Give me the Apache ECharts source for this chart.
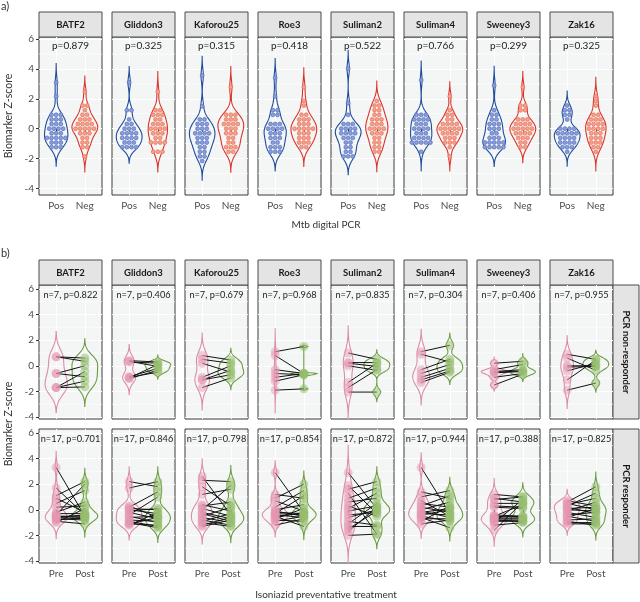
<!DOCTYPE html>
<html><head><meta charset="utf-8">
<script src="https://cdn.jsdelivr.net/npm/echarts@6/dist/echarts.min.js"></script>
<style>html,body{margin:0;padding:0;background:#fff}#c{width:640px;height:602px}</style>
</head><body><div id="c"></div><script>
// ---------- categories & labels ----------
const biomarkers = ['BATF2','Gliddon3','Kaforou25','Roe3','Suliman2','Suliman4','Sweeney3','Zak16'];
const groupLabelsA = ['Pos','Neg'];
const groupLabelsB = ['Pre','Post'];
const rowLabelsB = ['PCR non-responder','PCR responder'];
const pValuesA  = ['0.879','0.325','0.315','0.418','0.522','0.766','0.299','0.325'];
const pValuesNR = ['0.822','0.406','0.679','0.968','0.835','0.304','0.406','0.955'];
const pValuesR  = ['0.701','0.846','0.798','0.854','0.872','0.944','0.388','0.825'];
const yTicks = [-4,-2,0,2,4,6];
const yMinorTicks = [-3,-1,1,3,5];

// ---------- panel a: Mtb digital PCR Pos / Neg ----------
const posBATF2 = [3.1,2.17,0.93,0.93,0.93,0.62,0.62,0.62,0.31,0.31,0.31,0,0,0,0,-0.31,-0.31,-0.31,-0.62,-0.62,-0.62,-0.62,-0.62,-0.93,-0.93,-0.93,-1.24,-1.24,-1.24];
const negBATF2 = [2.48,1.55,1.55,1.24,0.93,0.93,0.62,0.62,0.62,0.31,0.31,0.31,0.31,0,0,0,0,0,-0.31,-0.31,-0.31,-0.62,-0.62,-0.93,-0.93,-1.24,-1.24,-1.86];
const posGliddon3 = [3.1,1.24,1.24,0.62,0.31,0.31,0,0,0,-0.31,-0.31,-0.31,-0.31,-0.62,-0.62,-0.62,-0.62,-0.93,-0.93,-0.93,-1.24,-1.24,-1.24,-1.24];
const negGliddon3 = [2.48,1.24,1.24,0.93,0.93,0.93,0.62,0.62,0.31,0.31,0.31,0,0,0,0,-0.31,-0.31,-0.31,-0.62,-0.62,-0.93,-0.93,-0.93,-0.93,-1.55,-1.55,-1.55];
const posKaforou25 = [3.57,1.5,0.62,0.62,0.31,0.31,0.31,0,0,0,-0.31,-0.31,-0.31,-0.31,-0.62,-0.62,-0.62,-0.93,-0.93,-0.93,-1.24,-1.24,-1.55,-1.55,-1.86,-1.86,-2.17];
const negKaforou25 = [2.79,0.93,0.93,0.93,0.62,0.62,0.62,0.31,0.31,0.31,0.31,0,0,0,-0.31,-0.31,-0.31,-0.62,-0.62,-0.93,-0.93,-1.24,-1.24,-1.24,-1.55,-1.55];
const posRoe3 = [3.41,2.17,1.24,1.24,0.93,0.93,0.31,0.31,0.31,0,0,0,0,-0.31,-0.31,-0.31,-0.62,-0.62,-0.62,-0.93,-0.93,-1.24,-1.24,-1.24,-1.55,-1.55,-1.55];
const negRoe3 = [2.79,1.86,1.55,0.93,0.93,0.62,0.62,0.62,0.31,0.31,0.31,0,0,0,0,0,-0.31,-0.31,-0.31,-0.62,-0.62,-0.62,-0.93,-0.93,-0.93,-1.24,-1.24];
const posSuliman2 = [4.03,1.71,0.93,0.31,0.31,0.31,0,0,0,0,-0.31,-0.31,-0.31,-0.31,-0.62,-0.62,-0.62,-0.93,-0.93,-1.24,-1.24,-1.55,-1.55,-1.86,-1.86,-1.86];
const negSuliman2 = [1.86,1.55,1.55,1.24,1.24,0.93,0.93,0.62,0.62,0.62,0.31,0.31,0.31,0,0,0,0,-0.31,-0.31,-0.31,-0.62,-0.62,-0.93,-0.93,-1.24,-1.24,-1.55,-1.55];
const posSuliman4 = [3.26,0.93,0.93,0.93,0.62,0.62,0.62,0.62,0.31,0.31,0.31,0,0,0,0,-0.31,-0.31,-0.31,-0.62,-0.62,-0.62,-0.62,-0.93,-0.93,-0.93,-0.93,-0.93,-1.55];
const negSuliman4 = [2.17,1.24,0.93,0.93,0.62,0.62,0.31,0.31,0.31,0.31,0,0,0,0,0,-0.31,-0.31,-0.31,-0.31,-0.62,-0.62,-0.62,-0.93,-0.93,-0.93,-1.24,-1.86];
const posSweeney3 = [2.9,1.24,0.93,0.93,0.62,0.62,0.31,0.31,0.31,0,0,0,-0.31,-0.31,-0.62,-0.62,-0.62,-0.93,-0.93,-0.93,-0.93,-0.93,-1.24,-1.24,-1.24,-1.24,-1.24];
const negSweeney3 = [2.79,1.55,1.55,1.24,1.24,0.62,0.62,0.62,0.31,0.31,0.31,0.31,0,0,0,0,0,-0.31,-0.31,-0.31,-0.31,-0.62,-0.62,-0.62,-0.93,-0.93,-1.24,-1.24];
const posZak16 = [1.55,1.24,1.24,0.93,0.93,0.62,0,0,0,0,-0.31,-0.31,-0.31,-0.31,-0.31,-0.62,-0.62,-0.62,-0.62,-0.93,-0.93,-0.93,-0.93,-1.24,-1.24,-1.24,-1.55];
const negZak16 = [2.17,1.86,1.55,0.93,0.93,0.62,0.62,0.62,0.31,0.31,0.31,0.31,0,0,0,0,-0.31,-0.31,-0.31,-0.62,-0.62,-0.62,-0.93,-0.93,-0.93,-1.24,-1.24,-1.55];

// ---------- panel b: paired Pre / Post, PCR non-responders (n=7) ----------
const preNR_BATF2 = [0.7,0.7,-0.6,-0.6,-1.7,-1.7,-1.7];
const postNR_BATF2 = [0.6,0.35,0.0,-0.85,-0.45,-1.65,-1.2];
const preNR_Gliddon3 = [0.4,0.35,0.3,-0.85,-0.9,-0.95,-1.0];
const postNR_Gliddon3 = [0.3,-0.05,0.2,-0.2,-0.5,0.1,-0.35];
const preNR_Kaforou25 = [0.8,0.5,0.2,-0.9,-1.1,-1.1,-1.7];
const postNR_Kaforou25 = [0.45,0.2,-0.5,0.0,-0.35,-0.7,-0.95];
const preNR_Roe3 = [1.1,0.8,-0.3,-0.6,-0.9,-1.2,-1.9];
const postNR_Roe3 = [1.5,-0.6,-0.6,-0.7,-0.6,-0.7,-1.8];
const preNR_Suliman2 = [1.0,0.25,0.2,0.0,-1.3,-1.7,-2.05];
const postNR_Suliman2 = [0.5,0.25,-0.05,-0.35,0.2,-0.3,-2.05];
const preNR_Suliman4 = [1.1,0.9,-0.3,-0.6,-0.9,-1.1,-1.3];
const postNR_Suliman4 = [1.6,0.3,0.5,0.1,-0.2,-0.4,-0.5];
const preNR_Sweeney3 = [0.2,-0.3,-0.45,-0.5,-0.55,-0.9,-1.5];
const postNR_Sweeney3 = [0.35,0.1,-0.3,-0.4,-0.45,-0.6,-0.65];
const preNR_Zak16 = [0.9,0.6,0.0,-0.1,-0.4,-1.1,-1.9];
const postNR_Zak16 = [0.5,-0.35,0.0,-0.05,0.2,0.45,-1.35];

// ---------- panel b: PCR responders (n=17) ----------
const preR_BATF2 = [3.3,1.7,1.1,0.9,0.5,0.2,-0.2,-0.3,-0.4,-0.5,-0.5,-0.6,-0.6,-0.7,-0.8,-0.9,-1.0];
const postR_BATF2 = [-0.5,-0.4,2.2,-0.2,1.5,0.3,0.6,-0.3,2.0,-0.5,-0.6,-0.7,-0.4,-0.8,-0.6,-1.1,0.1];
const preR_Gliddon3 = [2.2,1.7,0.3,0.2,0.1,0.0,-0.1,-0.2,-0.4,-0.5,-0.6,-0.8,-0.9,-1.0,-1.1,-1.1,-1.2];
const postR_Gliddon3 = [1.8,2.2,-0.6,1.4,0.0,-0.3,0.1,-0.7,1.0,-1.0,-0.5,-0.9,-1.3,-1.4,-0.6,-1.2,-0.2];
const preR_Kaforou25 = [2.6,2.3,1.8,1.2,0.4,0.3,0.1,0.0,-0.2,-0.3,-0.5,-0.6,-0.8,-0.9,-1.0,-1.2,-1.3];
const postR_Kaforou25 = [-0.4,2.2,0.3,1.6,-0.1,0.6,-0.5,1.9,-0.7,-0.9,0.2,-1.0,-1.2,-0.3,-1.3,-0.6,-0.8];
const preR_Roe3 = [2.9,1.2,0.9,0.7,0.2,0.0,-0.1,-0.2,-0.3,-0.3,-0.4,-0.5,-0.6,-0.8,-0.9,-1.2,-0.7];
const postR_Roe3 = [-0.2,0.9,2.0,-0.1,1.5,0.4,-0.5,-0.3,1.1,-0.4,-0.6,-1.3,-0.2,-0.9,-0.5,-0.7,0.1];
const preR_Suliman2 = [2.9,1.9,1.6,1.3,0.9,0.6,0.3,0.1,-0.1,-0.4,-0.6,-0.9,-1.1,-1.3,-1.5,-1.7,-2.0];
const postR_Suliman2 = [0.1,-0.3,2.2,-1.9,1.7,0.9,-0.5,1.3,0.3,-0.2,0.0,-1.2,0.5,-1.3,-0.1,0.2,-1.9];
const preR_Suliman4 = [3.3,1.4,1.0,0.7,0.5,0.3,0.2,0.0,-0.1,-0.2,-0.3,-0.5,-0.6,-0.7,-0.9,-1.1,-0.4];
const postR_Suliman4 = [-0.3,0.9,1.5,-0.5,0.2,1.1,-0.2,0.6,-0.6,0.1,-0.4,-0.9,-1.4,-0.7,0.3,-0.8,0.0];
const preR_Sweeney3 = [1.2,0.9,0.8,0.5,0.3,0.2,-0.4,-0.5,-0.5,-0.6,-0.7,-0.8,-0.8,-0.9,-1.0,-1.2,-1.6];
const postR_Sweeney3 = [1.0,0.6,1.0,0.5,0.2,0.1,-0.5,-0.6,0.4,-0.5,-0.7,-0.8,-0.9,-0.9,0.8,-1.0,0.6];
const preR_Zak16 = [0.7,0.6,0.5,0.4,0.3,0.2,0.1,0.0,-0.1,-0.2,-0.4,-0.5,-0.6,-0.8,-0.9,-1.0,-1.1];
const postR_Zak16 = [0.3,1.8,0.0,0.9,1.3,-0.3,0.2,-0.1,0.6,-0.6,-0.2,-0.9,0.1,-0.7,-1.2,-1.0,-1.1];

// ---------- tables built from the arrays ----------
const posData = [posBATF2,posGliddon3,posKaforou25,posRoe3,posSuliman2,posSuliman4,posSweeney3,posZak16];
const negData = [negBATF2,negGliddon3,negKaforou25,negRoe3,negSuliman2,negSuliman4,negSweeney3,negZak16];
const preNR = [preNR_BATF2,preNR_Gliddon3,preNR_Kaforou25,preNR_Roe3,preNR_Suliman2,preNR_Suliman4,preNR_Sweeney3,preNR_Zak16];
const postNR = [postNR_BATF2,postNR_Gliddon3,postNR_Kaforou25,postNR_Roe3,postNR_Suliman2,postNR_Suliman4,postNR_Sweeney3,postNR_Zak16];
const preR = [preR_BATF2,preR_Gliddon3,preR_Kaforou25,preR_Roe3,preR_Suliman2,preR_Suliman4,preR_Sweeney3,preR_Zak16];
const postR = [postR_BATF2,postR_Gliddon3,postR_Kaforou25,postR_Roe3,postR_Suliman2,postR_Suliman4,postR_Sweeney3,postR_Zak16];

// ---------- styling / layout ----------
const FONT = 'Lato, "Noto Sans", sans-serif';
const PANEL_L = 39, PANEL_STEP = 73, PANEL_W = 63;
const BG = '#F4F6F6';
const BINW = 0.31;
const COL_A = {stroke:['#1F4B9B','#D8342A'], dotFill:['#8A9ED8','#F5A08A'], dotStroke:['#5670C0','#E8705A']};
const COL_B = {stroke:['#DB8CA6','#6A9B40'], pt:['rgba(230,150,176,0.6)','rgba(150,190,110,0.65)']};

function quantile(s, p){ const h=(s.length-1)*p, lo=Math.floor(h), hi=Math.ceil(h); return s[lo]+(h-lo)*(s[hi]-s[lo]); }
function bwNrd0(x){
  const n=x.length, m=x.reduce((a,b)=>a+b,0)/n;
  const sd=Math.sqrt(x.reduce((a,b)=>a+(b-m)*(b-m),0)/(n-1));
  const s=[...x].sort((a,b)=>a-b);
  const iqr=quantile(s,0.75)-quantile(s,0.25);
  let lo=Math.min(sd, iqr/1.34); if(!(lo>0)) lo=sd||1;
  return 0.9*lo*Math.pow(n,-0.2);
}
function kde(x){
  const bw=bwNrd0(x), mn=Math.min(...x)-3*bw, mx=Math.max(...x)+3*bw, N=160, out=[];
  for(let k=0;k<N;k++){
    const y=mn+(mx-mn)*k/(N-1); let d=0;
    for(const v of x){ const z=(y-v)/bw; d+=Math.exp(-0.5*z*z); }
    out.push([y, d/(x.length*bw*Math.sqrt(2*Math.PI))]);
  }
  return out;
}

const grids=[], xAxes=[], yAxes=[], series=[];

function addPanel(gi, col, top, h, ymin, ymax, labels, showX){
  grids.push({left:PANEL_L+PANEL_STEP*col, top:top, width:PANEL_W, height:h, show:true,
    backgroundColor:BG, borderColor:'#3a3a3a', borderWidth:1});
  xAxes.push({type:'value', gridIndex:gi, min:0.4, max:2.6,
    axisLine:{show:false},
    axisTick:{show:showX, customValues:[1,2], length:3, lineStyle:{color:'#333'}},
    axisLabel:{show:showX, customValues:[1,2], formatter:v=>labels[Math.round(v)-1],
      color:'#4D4D4D', fontSize:10, fontFamily:FONT, margin:6},
    splitLine:{show:true, lineStyle:{color:'#FFFFFF', width:1}}});
  yAxes.push({type:'value', gridIndex:gi, min:ymin, max:ymax,
    axisLine:{show:false},
    axisTick:{show:col===0, customValues:yTicks, length:3, lineStyle:{color:'#333'}},
    axisLabel:{show:col===0, customValues:yTicks, color:'#4D4D4D', fontSize:10, fontFamily:FONT, margin:5},
    splitLine:{show:true, lineStyle:{color:'#FFFFFF', width:1}}});
  series.push({type:'custom', xAxisIndex:gi, yAxisIndex:gi, silent:true, data:yMinorTicks.map(v=>[1,v]),
    renderItem:(p,api)=>{ const a=api.coord([0.4,api.value(1)]), b=api.coord([2.6,api.value(1)]);
      return {type:'line', shape:{x1:a[0],y1:a[1],x2:b[0],y2:b[1]}, style:{stroke:'#FFFFFF', lineWidth:0.6}}; }});
}

function addViolins(gi, groups, strokes){
  const dens=groups.map(kde);
  const maxD=Math.max(...dens.map(d=>Math.max(...d.map(q=>q[1]))));
  series.push({type:'custom', xAxisIndex:gi, yAxisIndex:gi, silent:true,
    data:groups.map((g,i)=>[i+1, g[0]]),
    renderItem:(p,api)=>{
      const k=p.dataIndex, d=dens[k], xc=k+1;
      const L=d.map(([y,v])=>api.coord([xc-0.45*v/maxD,y]));
      const R=d.map(([y,v])=>api.coord([xc+0.45*v/maxD,y])).reverse();
      return {type:'polygon', shape:{points:L.concat(R)}, style:{fill:'none', stroke:strokes[k], lineWidth:1.1}};
    }});
}

function addDots(gi, groups){
  const items=[];
  groups.forEach((g,k)=>{
    const counts=new Map();
    g.forEach(v=>counts.set(v,(counts.get(v)||0)+1));
    counts.forEach((c,v)=>{ for(let j=0;j<c;j++) items.push([k+1,v,j,c,k]); });
  });
  series.push({type:'custom', xAxisIndex:gi, yAxisIndex:gi, silent:true, data:items,
    renderItem:(p,api)=>{
      const x=api.value(0), y=api.value(1), j=api.value(2), c=api.value(3), k=api.value(4);
      const pt=api.coord([x,y]); const dpx=api.size([0,BINW])[1];
      return {type:'circle', shape:{cx:pt[0]+(j-(c-1)/2)*dpx, cy:pt[1], r:dpx/2-0.35},
        style:{fill:COL_A.dotFill[k], stroke:COL_A.dotStroke[k], lineWidth:0.7}};
    }});
}

function addLabel(gi, text, size){
  series.push({type:'custom', xAxisIndex:gi, yAxisIndex:gi, silent:true, data:[[1.5,5.55]],
    renderItem:(p,api)=>{ const c=api.coord([api.value(0),api.value(1)]);
      return {type:'text', x:c[0], y:c[1], style:{text:text, textAlign:'center', textVerticalAlign:'middle',
        fill:'#222', fontSize:size, fontFamily:FONT}}; }});
}

function addPairs(gi, pre, post){
  series.push({type:'scatter', xAxisIndex:gi, yAxisIndex:gi, silent:true, symbolSize:9,
    data:pre.map(v=>[1,v]), itemStyle:{color:COL_B.pt[0]}});
  series.push({type:'scatter', xAxisIndex:gi, yAxisIndex:gi, silent:true, symbolSize:9,
    data:post.map(v=>[2,v]), itemStyle:{color:COL_B.pt[1]}});
  series.push({type:'custom', xAxisIndex:gi, yAxisIndex:gi, silent:true,
    data:pre.map((v,i)=>[v,post[i]]),
    renderItem:(p,api)=>{ const a=api.coord([1,api.value(0)]), b=api.coord([2,api.value(1)]);
      return {type:'line', shape:{x1:a[0],y1:a[1],x2:b[0],y2:b[1]}, style:{stroke:'#111', lineWidth:1}}; }});
}

let gi=0;
for(let i=0;i<8;i++){
  const groups=[posData[i],negData[i]];
  addPanel(gi,i,37,158,-4.45,6.15,groupLabelsA,true);
  addViolins(gi,groups,COL_A.stroke);
  addDots(gi,groups);
  addLabel(gi,'p='+pValuesA[i],10);
  gi++;
}
const rowsB=[{top:285,pre:preNR,post:postNR,p:pValuesNR,showX:false},{top:429,pre:preR,post:postR,p:pValuesR,showX:true}];
rowsB.forEach(r=>{
  for(let i=0;i<8;i++){
    const groups=[r.pre[i],r.post[i]];
    addPanel(gi,i,r.top,134,-4.15,6.3,groupLabelsB,r.showX);
    addViolins(gi,groups,COL_B.stroke);
    addPairs(gi,r.pre[i],r.post[i]);
    addLabel(gi,'n='+r.pre[i].length+', p='+r.p[i],9.2);
    gi++;
  }
});

const graphic=[];
function strip(x,y,w,h,text,rot){
  graphic.push({type:'rect', shape:{x:x,y:y,width:w,height:h}, style:{fill:'#E4E4E4', stroke:'#4a4a4a', lineWidth:1}, silent:true});
  graphic.push({type:'text', x:x+w/2, y:y+h/2, rotation:rot||0, silent:true,
    style:{text:text, textAlign:'center', textVerticalAlign:'middle', fill:'#1A1A1A', fontSize:9.5, fontWeight:'bold', fontFamily:FONT}});
}
biomarkers.forEach((b,i)=>{ strip(PANEL_L+PANEL_STEP*i,12,PANEL_W,25,b); strip(PANEL_L+PANEL_STEP*i,260,PANEL_W,25,b); });
strip(613,285,26,134,rowLabelsB[0],-Math.PI/2);
strip(613,429,26,134,rowLabelsB[1],-Math.PI/2);
function txt(x,y,text,size,rot,align){
  graphic.push({type:'text', x:x, y:y, rotation:rot||0, silent:true,
    style:{text:text, textAlign:align||'center', textVerticalAlign:'middle', fill:'#333', fontSize:size, fontFamily:FONT}});
}
txt(1,6,'a)',11,0,'left');
txt(1,253,'b)',11,0,'left');
txt(9,116,'Biomarker Z-score',10.5,Math.PI/2);
txt(9,424,'Biomarker Z-score',10.5,Math.PI/2);
txt(326,225,'Mtb digital PCR',10);
txt(326,595,'Isoniazid preventative treatment',10);

const chart=echarts.init(document.getElementById('c'),null,{renderer:'canvas'});
chart.setOption({animation:false, backgroundColor:'#fff', grid:grids, xAxis:xAxes, yAxis:yAxes, series:series, graphic:graphic});
</script></body></html>
